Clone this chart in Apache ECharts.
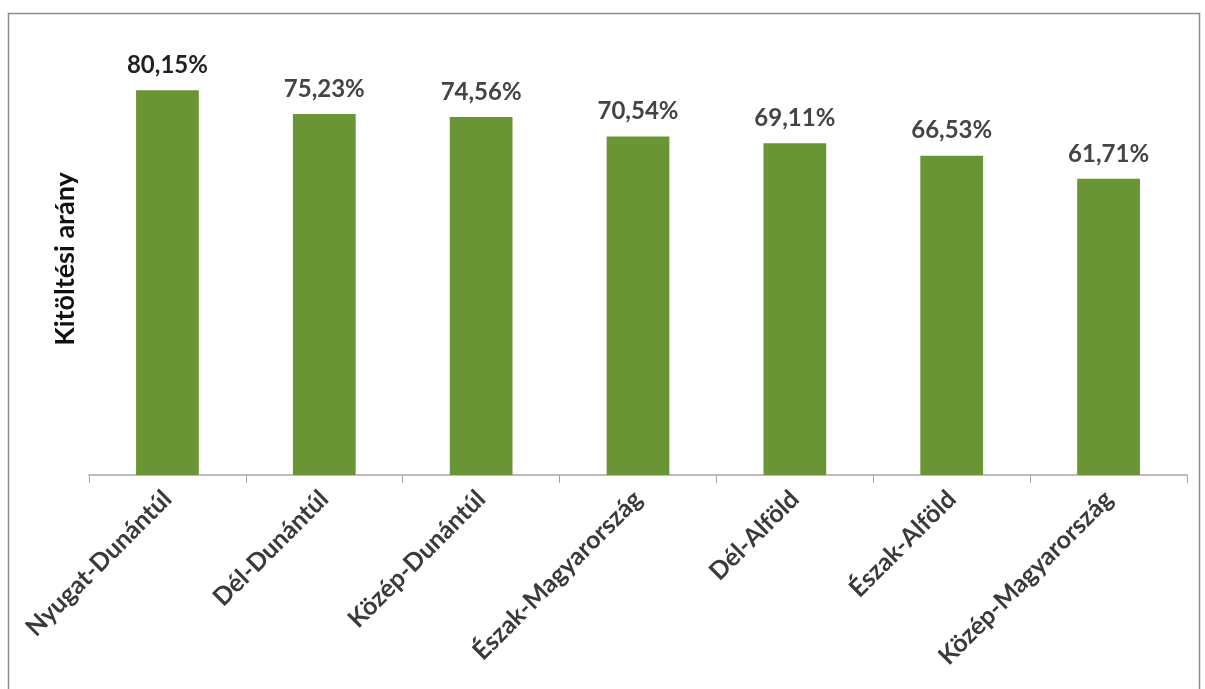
<!DOCTYPE html>
<html><head><meta charset="utf-8">
<script src="https://cdn.jsdelivr.net/npm/echarts@6/dist/echarts.min.js"></script>
<style>html,body{margin:0;padding:0;background:#fff}#c{width:1205px;height:689px}</style>
</head><body><div id="c"></div>
<script>
const categories = ['Nyugat-Dunántúl','Dél-Dunántúl','Közép-Dunántúl','Észak-Magyarország','Dél-Alföld','Észak-Alföld','Közép-Magyarország'];
const values = [80.15, 75.23, 74.56, 70.54, 69.11, 66.53, 61.71];
const yTitle = 'Kitöltési arány';

const seriesData = values.map((v, i) => i === 0 ? {value: v, label: {color: '#222'}} : v);

const chart = echarts.init(document.getElementById('c'));
chart.setOption({
  animation: false,
  graphic: [{type:'rect', shape:{x:8.5,y:13.5,width:1191,height:690}, style:{fill:'none', stroke:'#8c8c8c', lineWidth:1.5}, silent:true}],
  grid: {left: 89, right: 18, top: 43, bottom: 214},
  xAxis: {
    type: 'category', data: categories,
    axisLine: {lineStyle: {color: '#a6a6a6', width: 1.5}},
    axisTick: {show: true, alignWithLabel: false, length: 8, lineStyle: {color: '#a6a6a6'}},
    axisLabel: {rotate: 45, interval: 0, margin: 20, fontFamily: 'Lato', fontWeight: 'bold', fontSize: 25, color: '#3a3a3a'}
  },
  yAxis: {
    type: 'value', min: 0, max: 90,
    name: yTitle, nameLocation: 'middle', nameGap: 10, nameRotate: 90,
    nameTextStyle: {fontFamily: 'Lato', fontWeight: 'bold', fontSize: 27, color: '#111'},
    axisLine: {show: false}, axisTick: {show: false}, axisLabel: {show: false}, splitLine: {show: false}
  },
  series: [{
    type: 'bar', data: seriesData, barWidth: '40%',
    itemStyle: {color: '#6a9534'},
    label: {show: true, position: 'top', distance: 13, fontFamily: 'Lato', fontWeight: 'bold', fontSize: 24,
      color: '#444',
      formatter: p => p.value.toFixed(2).replace('.', ',') + '%'}
  }]
});
</script></body></html>
